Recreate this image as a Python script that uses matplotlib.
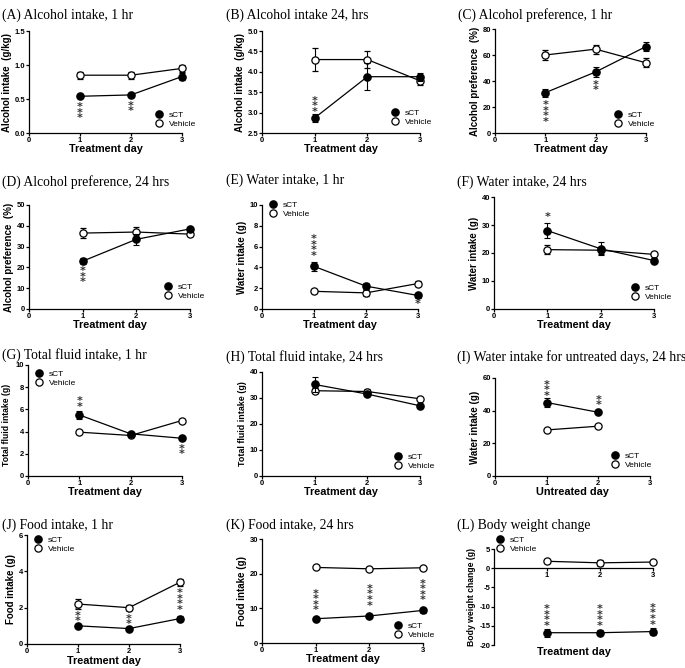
import matplotlib.pyplot as plt
from matplotlib.lines import Line2D
import numpy as np

W, H = 685, 668
plt.rcParams['font.family'] = ['Liberation Sans', 'DejaVu Sans']

days = [1, 2, 3]

# (A) Alcohol intake, 1 hr
a_sct = [0.54, 0.56, 0.83]
a_sct_err = [0.03, 0.03, 0.05]
a_veh = [0.85, 0.85, 0.95]
a_veh_err = [0.05, 0.05, 0.05]

# (B) Alcohol intake 24 hrs
b_sct = [2.87, 3.88, 3.88]
b_sct_err = [0.1, 0.33, 0.1]
b_veh = [4.30, 4.30, 3.78]
b_veh_err = [0.28, 0.2, 0.1]

# (C) Alcohol preference 1 hr
c_sct = [31, 47, 66.5]
c_sct_err = [3, 4, 3.5]
c_veh = [60, 64.5, 54]
c_veh_err = [3.5, 3.5, 3.5]

# (D) Alcohol preference 24 hrs
d_sct = [23, 33.5, 38.5]
d_sct_err = [1.5, 2.5, 1]
d_veh = [36.5, 37, 36]
d_veh_err = [2.5, 2.5, 1]

# (E) Water intake 1 hr
e_sct = [4.1, 2.2, 1.3]
e_sct_err = [0.4, 0.3, 0.2]
e_veh = [1.7, 1.55, 2.45]
e_veh_err = [0.15, 0.3, 0.2]

# (F) Water intake 24 hrs
f_sct = [28, 21.5, 17.3]
f_sct_err = [2.8, 2.3, 0.8]
f_veh = [21.2, 21, 19.5]
f_veh_err = [1.5, 1.3, 0.7]

# (G) Total fluid intake 1 hr
g_sct = [5.5, 3.8, 3.4]
g_sct_err = [0.4, 0.2, 0.15]
g_veh = [3.95, 3.65, 5.0]
g_veh_err = [0.15, 0.15, 0.15]

# (H) Total fluid intake 24 hrs
h_sct = [35.2, 31.5, 27]
h_sct_err = [2.8, 0.8, 0.8]
h_veh = [32.8, 32.5, 29.7]
h_veh_err = [1, 1, 0.5]

# (I) Water intake for untreated days
i_days = [1, 2]
i_sct = [45, 39]
i_sct_err = [2.5, 1]
i_veh = [28.2, 30.5]
i_veh_err = [0.5, 1]

# (J) Food intake 1 hr
j_sct = [1.0, 0.85, 1.4]
j_sct_err = [0.1, 0.05, 0.15]
j_veh = [2.2, 2.0, 3.4]
j_veh_err = [0.3, 0.15, 0.2]

# (K) Food intake 24 hrs
k_sct = [7.0, 7.8, 9.4]
k_sct_err = [0.3, 0.3, 0.8]
k_veh = [21.8, 21.4, 21.7]
k_veh_err = [0.3, 0.3, 0.3]

# (L) Body weight change
l_sct = [-16.8, -16.8, -16.5]
l_sct_err = [1.0, 0.7, 1.0]
l_veh = [1.8, 1.4, 1.6]
l_veh_err = [0.5, 0.8, 0.3]

fig = plt.figure(figsize=(W / 100, H / 100), dpi=100)

# legend proxies: marker only
leg_handles = [
    Line2D([], [], ls='none', marker='o', ms=5.2, mfc='black', mec='black'),
    Line2D([], [], ls='none', marker='o', ms=5.2, mfc='white', mec='black',
           mew=0.9),
]


def make_axes(x0, x1, y0, y1):
    # x0/x1: pixel of x=0 and x=3, y0/y1: pixel of top and bottom of y range
    return fig.add_axes([x0 / W, 1 - y1 / H, (x1 - x0) / W, (y1 - y0) / H])


def panel(box, title, tpos, x, sct, sct_err, veh, veh_err, ylim, ystep, fmt,
          ylabel, leg, stars, xlabel="Treatment day", ylsize=7):
    ax = make_axes(*box)
    ax.errorbar(x, veh, yerr=veh_err, color='black', lw=0.9, marker='o',
                ms=5.2, mfc='white', mec='black', mew=0.9, capsize=2.3,
                elinewidth=0.8, capthick=0.8, clip_on=False, zorder=3)
    ax.errorbar(x, sct, yerr=sct_err, color='black', lw=0.9, marker='o',
                ms=5.2, mfc='black', mec='black', capsize=2.3,
                elinewidth=0.8, capthick=0.8, clip_on=False, zorder=4)
    ax.set_xlim(0, 3)
    ax.set_ylim(*ylim)
    ax.set_xticks([0, 1, 2, 3])
    ax.set_yticks(np.arange(ylim[0], ylim[1] + ystep / 2, ystep))
    ax.yaxis.set_major_formatter(plt.FormatStrFormatter(fmt))
    for s in ['top', 'right']:
        ax.spines[s].set_visible(False)
    for s in ['left', 'bottom']:
        ax.spines[s].set_linewidth(0.9)
    ax.tick_params(length=2.2, width=0.9, pad=0.5, labelsize=5.5)
    for lab in ax.get_xticklabels() + ax.get_yticklabels():
        lab.set_fontweight('bold')
    ax.set_xlabel(xlabel, fontsize=7.8, fontweight='bold', labelpad=0)
    ax.set_ylabel(ylabel, fontsize=ylsize, fontweight='bold', labelpad=2)
    fig.text(tpos[0] / W, 1 - tpos[1] / H, title, family='Liberation Serif',
             fontsize=9.8, va='center', ha='left')
    ax.legend(leg_handles, ['sCT', 'Vehicle'], loc='upper left',
              bbox_to_anchor=((leg[0] - 4) / W, 1 - (leg[1] - 5) / H),
              bbox_transform=fig.transFigure, frameon=False, fontsize=6,
              handlelength=1, handletextpad=0.7, labelspacing=0.18,
              borderpad=0, borderaxespad=0)
    for d, yv, n in stars:
        ax.text(d, yv, '\n'.join('*' * n), ha='center', va='center',
                fontsize=8, fontweight='bold', family='DejaVu Sans',
                color='#333333', linespacing=0.45)
    return ax


panel((29, 182, 31, 133), '(A) Alcohol intake, 1 hr', (2, 15), days,
      a_sct, a_sct_err, a_veh, a_veh_err, (0, 1.5), 0.5, '%.1f',
      'Alcohol intake  (g/kg)', (159, 116),
      [(1, 0.30, 3), (2, 0.36, 2)])
panel((262, 420, 31, 133), '(B) Alcohol intake 24, hrs', (226, 15), days,
      b_sct, b_sct_err, b_veh, b_veh_err, (2.5, 5.0), 0.5, '%.1f',
      'Alcohol intake  (g/kg)', (395, 114),
      [(1, 3.15, 3)])
panel((495, 646, 29, 133), '(C) Alcohol preference, 1 hr', (458, 15), days,
      c_sct, c_sct_err, c_veh, c_veh_err, (0, 80), 20, '%d',
      'Alcohol preference  (%)', (618, 116),
      [(1, 15, 4), (2, 35, 2)])
panel((29, 190, 205, 309), '(D) Alcohol preference, 24 hrs', (2, 182), days,
      d_sct, d_sct_err, d_veh, d_veh_err, (0, 50), 10, '%d',
      'Alcohol preference  (%)', (168, 288),
      [(1, 15.5, 3)])
panel((262, 418, 205, 309), '(E) Water intake, 1 hr', (226, 180), days,
      e_sct, e_sct_err, e_veh, e_veh_err, (0, 10), 2, '%d',
      'Water intake (g)', (273, 206),
      [(1, 5.9, 4), (3, 0.5, 1)])
panel((494, 654, 197, 309), '(F) Water intake, 24 hrs', (457, 182), days,
      f_sct, f_sct_err, f_veh, f_veh_err, (0, 40), 10, '%d',
      'Water intake (g)', (635, 289),
      [(1, 33, 1)])
axg = panel((28, 182, 365, 476), '(G) Total fluid intake, 1 hr', (2, 355),
            days, g_sct, g_sct_err, g_veh, g_veh_err, (0, 10), 2, '%d',
            'Total fluid intake (g)', (39, 375),
            [(1, 6.5, 2), (3, 2.2, 2)], ylsize=6.2)
# nudge the G y title down, away from the panel heading
axg.yaxis.set_label_coords(-0.11, 0.46)
panel((262, 420, 372, 476), '(H) Total fluid intake, 24 hrs', (226, 357), days,
      h_sct, h_sct_err, h_veh, h_veh_err, (0, 40), 10, '%d',
      'Total fluid intake (g)', (398, 458), [], ylsize=6.4)
panel((495, 650, 378, 476), '(I) Water intake for untreated days, 24 hrs',
      (457, 357), i_days, i_sct, i_sct_err, i_veh, i_veh_err, (0, 60), 20,
      '%d', 'Water intake (g)', (615, 457),
      [(1, 52.5, 3), (2, 45, 2)], xlabel='Untreated day')
axj = panel((27, 180, 535, 644), '(J) Food intake, 1 hr', (2, 525), days,
            j_sct, j_sct_err, j_veh, j_veh_err, (0, 6), 2, '%d',
            'Food intake (g)', (38, 541),
            [(1, 1.55, 3), (2, 1.4, 3), (3, 2.35, 4)])
# keep the J axis title inside the figure
axj.xaxis.set_label_coords(0.5, -(655.5 - 644) / 109)
axj.xaxis.label.set_va('top')
panel((262, 423, 539, 643), '(K) Food intake, 24 hrs', (226, 525), days,
      k_sct, k_sct_err, k_veh, k_veh_err, (0, 30), 10, '%d',
      'Food intake (g)', (398, 627),
      [(1, 11.8, 4), (2, 13.2, 4), (3, 14.7, 4)])
axl = panel((494, 653, 549, 645), '(L) Body weight change', (457, 525), days,
            l_sct, l_sct_err, l_veh, l_veh_err, (-20, 5), 5, '%d',
            'Body weight change (g)', (500, 541),
            [(1, -12.8, 4), (2, -12.8, 4), (3, -12.5, 4)],
            ylsize=6.2)
axl.spines['bottom'].set_position(('data', 0))
axl.set_xticks([1, 2, 3])
for lab in axl.get_xticklabels():
    lab.set_fontweight('bold')
axl.xaxis.set_label_coords(0.5, -0.02)
axl.xaxis.label.set_va('top')

fig.savefig('out.png', dpi=100)
